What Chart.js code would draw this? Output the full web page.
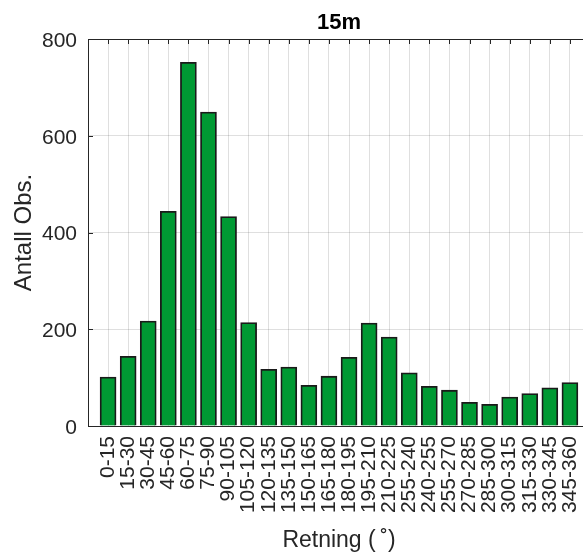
<!DOCTYPE html>
<html>
<head>
<meta charset="utf-8">
<script src="https://cdn.jsdelivr.net/npm/chart.js@4/dist/chart.umd.min.js"></script>
<style>
html,body{margin:0;padding:0;overflow:hidden;background:#fff;width:583px;height:554px}
#wrap{position:relative;width:590px;height:554px}
canvas{display:block}
</style>
</head>
<body>
<div id="wrap"><canvas id="c" width="590" height="554"></canvas></div>
<script>
// ---- data ----
const categories = ['0-15','15-30','30-45','45-60','60-75','75-90','90-105','105-120','120-135','135-150','150-165','165-180','180-195','195-210','210-225','255-240','240-255','255-270','270-285','285-300','300-315','315-330','330-345','345-360'];
const counts = [101,144,217,444,752,649,433,214,117,122,84,103,142,213,184,110,82,74,49,45,60,67,79,90];
const yTicks = [0,200,400,600,800];
const chartTitle = '15m';
const xTitle = 'Retning (\u2009\u02DA)';
const yTitle = 'Antall Obs.';

// ---- styling ----
const FONT = "'Liberation Sans', Arial, Helvetica, sans-serif";
const TXT = '#262626';
const GRID = 'rgba(38,38,38,0.15)';
const H = 554;

const points = counts.map((v, i) => ({ x: i + 1, y: v }));

const inwardTicks = {
  id: 'inwardTicks',
  afterDraw(chart) {
    const { ctx, chartArea, scales } = chart;
    ctx.save();
    ctx.strokeStyle = TXT;
    ctx.lineWidth = 1;
    ctx.beginPath();
    categories.forEach((c, i) => {
      const x = Math.round(scales.x.getPixelForValue(i + 1)) + 0.5;
      ctx.moveTo(x, chartArea.top);
      ctx.lineTo(x, chartArea.top + 5);
    });
    yTicks.forEach(v => {
      if (v === 0 || v === 800) return;
      const y = Math.round(scales.y.getPixelForValue(v)) + 0.5;
      ctx.moveTo(chartArea.left, y);
      ctx.lineTo(chartArea.left + 5, y);
    });
    ctx.stroke();
    ctx.restore();
  }
};

const noSidePad = s => { s.paddingLeft = 0; s.paddingRight = 0; };

new Chart(document.getElementById('c'), {
  type: 'bar',
  data: {
    datasets: [{
      data: points,
      backgroundColor: '#009933',
      borderColor: '#1a1a1a',
      borderWidth: 1.8,
      barThickness: 16
    }]
  },
  options: {
    responsive: false,
    animation: false,
    devicePixelRatio: 1,
    layout: { padding: 0 },
    plugins: { legend: { display: false }, tooltip: { enabled: false } },
    scales: {
      x: {
        type: 'linear',
        position: 'bottom',
        min: 0,
        max: 25,
        offset: false,
        afterBuildTicks: s => { s.ticks = categories.map((c, i) => ({ value: i + 1 })); },
        afterFit: s => { s.height = H - 426; noSidePad(s); },
        ticks: {
          autoSkip: false,
          minRotation: 90,
          maxRotation: 90,
          padding: 10,
          color: TXT,
          font: { family: FONT, size: 21 },
          callback: v => categories[v - 1] || ''
        },
        grid: { color: GRID, lineWidth: 1, drawTicks: false, offset: false },
        border: { color: TXT, width: 1 },
        title: { display: true, text: xTitle, color: TXT, font: { family: FONT, size: 23 }, padding: { top: 0, bottom: 0 } }
      },
      x2: {
        type: 'linear',
        position: 'top',
        min: 0,
        max: 25,
        offset: false,
        afterFit: s => { s.height = 39; noSidePad(s); },
        ticks: { display: false },
        grid: { drawOnChartArea: false, drawTicks: false },
        border: { color: TXT, width: 1 },
        title: { display: true, text: chartTitle, color: '#000', font: { family: FONT, size: 22, weight: 'bold' }, padding: { top: 10, bottom: 0 } }
      },
      y: {
        type: 'linear',
        min: 0,
        max: 800,
        afterBuildTicks: s => { s.ticks = yTicks.map(v => ({ value: v })); },
        afterFit: s => { s.width = 88; s.paddingTop = 0; s.paddingBottom = 0; },
        ticks: { padding: 11, labelOffset: 2, color: TXT, font: { family: FONT, size: 21 } },
        grid: { color: GRID, lineWidth: 1, drawTicks: false },
        border: { color: TXT, width: 1 },
        title: { display: true, text: yTitle, color: TXT, font: { family: FONT, size: 24 }, padding: { top: 10, bottom: 0 } }
      }
    }
  },
  plugins: [inwardTicks]
});
</script>
</body>
</html>
